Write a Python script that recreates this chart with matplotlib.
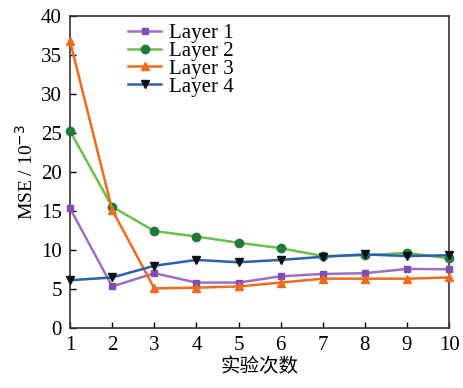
import matplotlib
matplotlib.use("Agg")
import matplotlib.pyplot as plt

runs = [1, 2, 3, 4, 5, 6, 7, 8, 9, 10]
layer1 = [15.3, 5.3, 7.0, 5.8, 5.8, 6.6, 6.9, 7.0, 7.55, 7.5]
layer2 = [25.2, 15.5, 12.4, 11.7, 10.9, 10.2, 9.2, 9.3, 9.6, 8.9]
layer3 = [36.7, 15.1, 5.05, 5.15, 5.3, 5.8, 6.3, 6.3, 6.3, 6.45]
layer4 = [6.1, 6.45, 7.95, 8.7, 8.4, 8.7, 9.1, 9.4, 9.2, 9.3]
labels = ["Layer 1", "Layer 2", "Layer 3", "Layer 4"]
yticks = [0, 5, 10, 15, 20, 25, 30, 35, 40]

plt.rcParams['font.family'] = ['Liberation Serif', 'Noto Sans CJK SC']

fig = plt.figure(figsize=(4.64, 3.88), dpi=100)
ax = fig.add_axes([0.151, 0.155, 0.817, 0.805])

styles = [
    dict(color='#9d6fc4', marker='s', mfc='#7e4fb0', mec='#7e4fb0', ms=5),
    dict(color='#6cc04a', marker='o', mfc='#1f7a3c', mec='#1f7a3c', ms=6),
    dict(color='#f26a1b', marker='^', mfc='#f26a1b', mec='#f26a1b', ms=6),
    dict(color='#2b5fb3', marker='v', mfc='#111111', mec='#111111', ms=6),
]
for data, lab, st in zip([layer1, layer2, layer3, layer4], labels, styles):
    ax.plot(runs, data, lw=1.8, label=lab, clip_on=False, zorder=3, **st)

ax.set_xlim(1, 10)
ax.set_ylim(0, 40)
ax.set_xticks(runs)
ax.set_yticks(yticks)
ax.tick_params(direction='in', labelsize=15, length=4, width=1, pad=6)
ax.tick_params(top=False, right=False)
for s in ax.spines.values():
    s.set_linewidth(1.2)
    s.set_color('#333333')

ax.set_xlabel('实验次数', fontsize=14, family=['Noto Sans CJK SC'], labelpad=1)
ax.set_ylabel('MSE / 10$^{-3}$', fontsize=14, labelpad=3)

ax.legend(loc='upper left', bbox_to_anchor=(0.12, 1.015), frameon=False,
          fontsize=15, labelspacing=-0.08, handlelength=1.6, handletextpad=0.35,
          borderaxespad=0.2)

fig.savefig('out.png', dpi=100)
